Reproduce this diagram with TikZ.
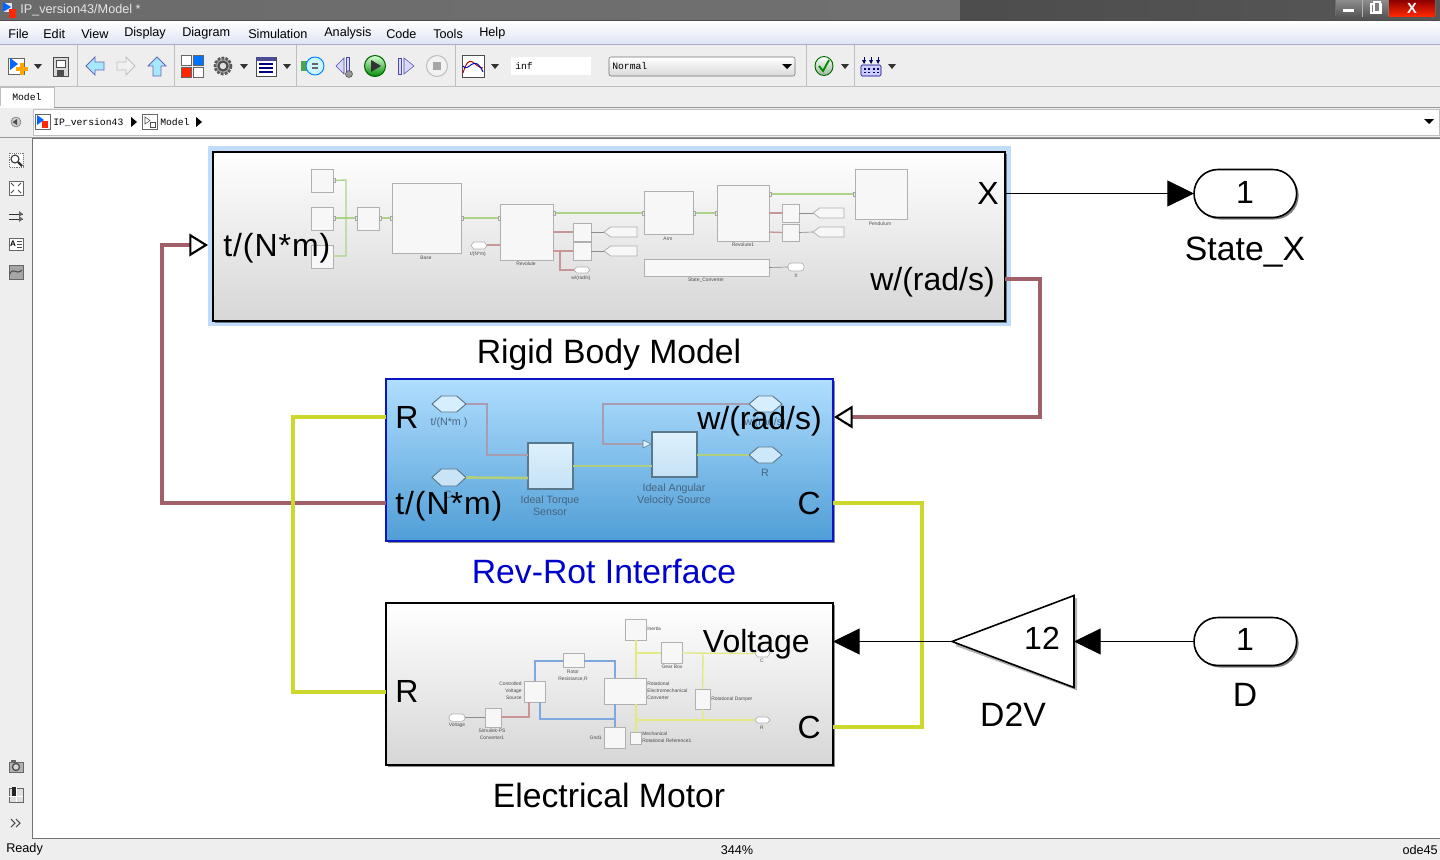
\documentclass[tikz,border=0pt]{standalone}
\usepackage{fontspec}
\setmainfont{Liberation Sans}
\setmonofont{Liberation Mono}
\usetikzlibrary{arrows.meta,shadows}

\definecolor{wirered}{RGB}{160,96,106}
\definecolor{wireyellow}{RGB}{204,216,44}
\definecolor{paneback}{RGB}{238,238,238}
\definecolor{panerule}{RGB}{190,190,190}
\definecolor{glowblue}{RGB}{192,220,250}
\definecolor{thumbgreen}{RGB}{172,212,136}
\definecolor{thumbred}{RGB}{200,150,150}
\definecolor{thumbyellow}{RGB}{226,232,130}
\definecolor{thumbblue}{RGB}{128,168,224}
\definecolor{thumbgrey}{RGB}{176,176,176}
\definecolor{revtext}{RGB}{70,100,125}

\tikzset{
  bigblock/.style={draw=black,line width=2pt,inner sep=0pt,outer sep=0pt,anchor=north west,
    top color=white,middle color=white!96!black,bottom color=white!84!black,
    drop shadow={shadow xshift=1.5pt,shadow yshift=-1.5pt,opacity=.45,fill=black}},
  revblock/.style={bigblock,draw={rgb,255:red,10;green,20;blue,200},
    top color={rgb,255:red,176;green,222;blue,255},middle color={rgb,255:red,146;green,204;blue,246},
    bottom color={rgb,255:red,80;green,158;blue,214}},
  box/.style={inner sep=0pt,outer sep=0pt,anchor=north west},
  portblock/.style={box,draw=black,line width=1.2pt,fill=white,rounded corners=18pt,minimum width=77pt,minimum height=36pt,
    drop shadow={shadow xshift=1.5pt,shadow yshift=-1.5pt,opacity=.5,fill=black}},
  thumb/.style={box,draw=thumbgrey,line width=0.6pt,fill=white!97!black},
  revthumb/.style={box,draw={rgb,255:red,90;green,120;blue,140},line width=0.8pt,
    top color={rgb,255:red,222;green,240;blue,252},bottom color={rgb,255:red,196;green,226;blue,246}},
  bigtext/.style={font=\fontsize{24}{26}\selectfont,inner sep=0pt},
  nametext/.style={font=\fontsize{25.3}{28}\selectfont,inner sep=0pt},
  revtext/.style={font=\fontsize{8}{9}\selectfont,text=revtext,inner sep=0pt,align=center},
  tinytext/.style={font=\fontsize{3.7}{5.2}\selectfont,text=black!70,inner sep=0pt},
  menutext/.style={font=\fontsize{9.5}{11}\selectfont,inner sep=0pt,anchor=west},
  monotext/.style={font=\ttfamily\fontsize{7.3}{8}\selectfont,inner sep=0pt,anchor=west},
  redwire/.style={draw=wirered,line width=2.3pt},
  yellowwire/.style={draw=wireyellow,line width=2.3pt},
  blackwire/.style={draw=black,line width=0.75pt},
  solidtip/.style={-{Triangle[length=20pt,width=19.5pt,fill=black,color=black]}},
  opentip/.style={-{Triangle[length=14pt,width=17pt,open,fill=white,color=black,line width=1.6pt]}},
  tgreen/.style={draw=thumbgreen,line width=1pt},
  tred/.style={draw=thumbred,line width=1pt},
  tyellow/.style={draw=thumbyellow,line width=1pt},
  tblue/.style={draw=thumbblue,line width=1pt},
  tgrey/.style={draw=black!45,line width=0.5pt},
  revmauve/.style={draw={rgb,255:red,168;green,156;blue,176},line width=2pt},
  revgreen/.style={draw={rgb,255:red,176;green,206;blue,128},line width=2pt},
  iconline/.style={draw=black!60,line width=0.6pt},
}

% block from its two corners: name, style, x1, y1, x2, y2
\newcommand{\blk}[6]{\node (#1) [#2,minimum width={(#5-#3)*0.75pt},minimum height={(#6-#4)*0.75pt}] at (#3,#4) {};}
% empty holder for hand drawn outlines
\newcommand{\holder}[5]{\node (#1) [box,minimum width={(#4-#2)*0.75pt},minimum height={(#5-#3)*0.75pt}] at (#2,#3) {};}
\newcommand{\hexblk}[7]{\holder{#1}{#3}{#4}{#5}{#6}
  \draw [#2] (#1.west) -- ([xshift=#7]#1.north west) -- ([xshift=-#7]#1.north east) -- (#1.east) -- ([xshift=-#7]#1.south east) -- ([xshift=#7]#1.south west) -- cycle;}
\newcommand{\gotoblk}[5]{\holder{#1}{#2}{#3}{#4}{#5}
  \draw [draw=thumbgrey,line width=0.6pt,fill=white!97!black] (#1.west) -- ([xshift=5pt]#1.north west) -- (#1.north east) -- (#1.south east) -- ([xshift=5pt]#1.south west) -- cycle;}
\newcommand{\droparrow}[2]{\fill [black!80] (#1-4,#2-2) -- (#1+4,#2-2) -- (#1,#2+3) -- cycle;}
\newcommand{\torquelabel}{\addfontfeature{LetterSpace=3}t/(N*m)}

\begin{document}
\begin{tikzpicture}[x=0.75pt,y=0.75pt,yscale=-1,xscale=1]
\useasboundingbox (0,0) rectangle (1440,860);
% window
\fill [paneback] (0,0) rectangle (1440,860);
\fill [left color=black!58,right color=black!56] (0,0) rectangle (960,20);
\fill [left color=black!70,right color=black!66] (960,0) rectangle (1440,20);
\node (titletext) [menutext,text=white!90!black] at (20,10) {IP\_version43/Model *};
\fill [white!90!black] (3,3) rectangle (12,12);
\fill [blue!60!cyan] (3,2) -- (11,7) -- (3,12) -- cycle;
\fill [red!70!orange] (9,9) rectangle (16,18);
% window buttons
\draw [black!70,fill=black!50,rounded corners=1.5pt] (1335,-3) rectangle (1436,17);
\fill [top color=black!45,bottom color=black!65] (1336,0) rectangle (1388,16);
\fill [top color=red!55!black,bottom color=red!70!orange] (1389,0) rectangle (1435,16);
\draw [white!70!black] (1362,0) -- (1362,17);
\fill [white] (1343,9) rectangle (1354,12);
\draw [white,line width=1pt,fill=black!50] (1371,4) rectangle (1381,13);
\draw [white,line width=1pt,fill=black!50] (1374,2) rectangle (1380,12);
\node (closetext) [inner sep=0pt,font=\bfseries\fontsize{11}{12}\selectfont,text=white] at (1412,8) {X};
% menu bar
\fill [top color=white,bottom color={rgb,255:red,222;green,228;blue,244}] (0,21) rectangle (1440,44);
\draw [black!70] (0,20.5) -- (1440,20.5);
\draw [panerule!90!blue] (0,44.5) -- (1440,44.5);
\foreach \mx/\mname in {8/File,43/Edit,81/View,124/Display,182/Diagram,248/Simulation,324/Analysis,386/Code,433/Tools,479/Help}
  \node (menu\mname) [menutext] at (\mx,33.5) {\mname};
% toolbar
\draw [panerule] (0,86.5) -- (1440,86.5);
\foreach \sx in {77,174.5,296,455,806,854}
  \draw [panerule] (\sx,45) -- (\sx,86);
\draw [iconline,fill=white] (8,58) rectangle (24,74);
\fill [blue!60!cyan] (10,58) -- (18,64) -- (10,70) -- cycle;
\fill [orange!70!yellow] (20,63) rectangle (24,75);
\fill [orange!70!yellow] (16,67) rectangle (28,71);
\droparrow{38}{66}
\draw [black!70,fill=black!15] (53,57) rectangle (68,76);
\draw [black!70,fill=white] (56,60) rectangle (65,67);
\fill [black!70] (57,70) rectangle (64,76);
% nav arrows
\draw [black!45!blue!60,fill=blue!25!cyan!35,line width=0.7pt] (86,66) -- (95,57) -- (95,62) -- (104,62) -- (104,70) -- (95,70) -- (95,75) -- cycle;
\draw [black!25,fill=black!6,line width=0.7pt] (135,66) -- (126,57) -- (126,62) -- (117,62) -- (117,70) -- (126,70) -- (126,75) -- cycle;
\draw [black!45!blue!60,fill=blue!25!cyan!35,line width=0.7pt] (157,57) -- (166,66) -- (161,66) -- (161,76) -- (153,76) -- (153,66) -- (148,66) -- cycle;
% library
\draw [iconline,fill=white] (181,55) rectangle (191,65);
\draw [iconline,fill=blue!55!cyan] (193,55) rectangle (203,65);
\draw [iconline,fill=red!70!orange] (181,67) rectangle (191,77);
\draw [iconline,fill=white] (193,67) rectangle (203,77);
% gear
\draw [black!65,fill=black!35,line width=2pt,dash pattern=on 2pt off 1pt] (223,66) circle (8);
\draw [black!70,fill=black!12,line width=1.5pt] (223,66) circle (4.5);
\droparrow{244}{66}
% table
\draw [black!70,fill=white] (256,57) rectangle (276,76);
\fill [blue!40!black!70] (256,57) rectangle (276,61);
\foreach \ty in {64,68,72}
  \draw [blue!50!black,line width=1pt] (259,\ty) -- (273,\ty);
\droparrow{287}{66}
% update
\fill [green!50!black!70] (301,61) rectangle (309,71);
\draw [blue!50!cyan,fill=blue!20!cyan!20,line width=0.7pt] (315,66) circle (9);
\draw [black!60,line width=1pt] (312,64) -- (318,64) (312,68) -- (318,68);
% step back
\draw [blue!50!black!70,fill=blue!15] (336,66) -- (344,58) -- (344,74) -- cycle;
\draw [blue!50!black!70,fill=blue!15] (346,57) rectangle (349,72);
\draw [black!70,fill=black!40] (349,74) circle (3.5);
% play
\draw [green!40!black,top color=green!15,bottom color=green!55!black,line width=0.8pt] (375,66) circle (10.5);
\fill [black!80] (371,60) -- (381,66) -- (371,72) -- cycle;
% step forward
\draw [blue!50!black!70,fill=blue!15] (398,58) rectangle (401,74);
\draw [blue!50!black!70,fill=blue!15] (404,58) -- (414,66) -- (404,74) -- cycle;
% stop
\draw [black!25,fill=black!5,line width=0.8pt] (437,66) circle (10.5);
\fill [black!35] (433,62) rectangle (441,70);
% scope
\draw [black!70,fill=white] (462,55) rectangle (484,77);
\draw [red!70!black,line width=0.7pt] (463,73) .. controls (470,50) and (474,68) .. (483,68);
\draw [blue!70!black,line width=0.7pt] (463,66) .. controls (468,74) and (474,52) .. (483,72);
\droparrow{495}{66}
% fields
\node (inffield) [box,fill=white,minimum width=60pt,minimum height=13.5pt] at (511,57) {};
\node (inftext) [monotext] at (515,66) {inf};
\node (modefield) [box,draw=black!55,rounded corners=1.5pt,top color=white,bottom color=black!15,minimum width=139.5pt,minimum height=14.25pt] at (609,57) {};
\node (modetext) [monotext] at (612,66) {Normal};
\fill [black] (782,64) -- (792,64) -- (787,69) -- cycle;
% check
\draw [green!40!black,top color=white,bottom color=green!30!black!40,line width=0.7pt] (824,66) ellipse (9 and 9.5);
\draw [green!55!black,line width=1.4pt] (819,66) -- (823,71) -- (829,60);
\droparrow{845}{66}
% variant icon
\draw [blue!50!black,fill=blue!20,rounded corners=1pt] (861,65) rectangle (881,76);
\foreach \gx in {864.5,869,873.5,878}{
  \fill [blue!40!black] (\gx-1,68) rectangle (\gx+1,69.5);
  \fill [blue!40!black] (\gx-1,71.5) rectangle (\gx+1,73);
}
\foreach \gx in {864,871,878}{
  \draw [blue!40!black,line width=0.7pt] (\gx,57) -- (\gx,63);
  \fill [blue!40!black] (\gx-2,60) -- (\gx+2,60) -- (\gx,64) -- cycle;
}
\droparrow{892}{66}
% tab strip
\node (modeltab) [box,draw=panerule,fill=white,minimum width=40.5pt,minimum height=15pt] at (0,87) {};
\node (modeltabtext) [monotext] at (12,97.5) {Model};
\fill [black!40] (0,106.5) rectangle (1440,107.5);
\fill [white] (0,106) rectangle (53.5,107.5);
% address bar
\node (addressfield) [box,draw=black!25,fill=white,minimum width=1055pt,minimum height=19.5pt] at (33,109) {};
\draw [black!55,fill=black!20] (16,122) circle (5);
\fill [black!70] (12.5,122) -- (17,119) -- (17,125) -- cycle;
\draw [iconline,fill=white] (35,114) rectangle (50,129);
\fill [blue!60!cyan] (37,115) -- (44,120) -- (37,125) -- cycle;
\fill [red!70!orange] (42,121) rectangle (48,128);
\node (addressroot) [monotext] at (53,122) {IP\_version43};
\fill [black] (131,117) -- (137,122) -- (131,127) -- cycle;
\draw [iconline,fill=white] (142,114) rectangle (157,129);
\draw [black!70,fill=white] (145,117) -- (150,120.5) -- (145,124) -- cycle;
\draw [black!70,fill=white] (150,122) rectangle (155,127);
\node (addressmodel) [monotext] at (160,122) {Model};
\fill [black] (196,117) -- (202,122) -- (196,127) -- cycle;
\fill [black] (1424,119) -- (1434,119) -- (1429,124) -- cycle;
% canvas
\fill [black!40] (0,136.5) rectangle (1440,137.5);
\node (canvas) [box,draw=black!55,fill=white,minimum width=1056pt,minimum height=525pt] at (32.5,138) {};
% side tools
\draw [black!55,densely dotted,fill=white] (9,153) rectangle (23,167);
\draw [black!80,fill=white,line width=0.8pt] (15,159) circle (4);
\draw [black!80,line width=1.6pt] (18,162) -- (22,166);
\draw [black!60,fill=white] (9,181) rectangle (23,195);
\draw [black!70,line width=0.7pt] (11,183) -- (14,186) (21,183) -- (18,186) (11,193) -- (14,190) (21,193) -- (18,190);
\draw [black!80] (9,214) -- (23,214) (9,219) -- (23,219);
\fill [black!60] (19,211) -- (23,214) -- (19,217) -- cycle;
\fill [black!60] (19,216) -- (23,219) -- (19,222) -- cycle;
\draw [black!60,fill=white] (9,238) rectangle (23,250);
\node (sidea) [inner sep=0pt,font=\bfseries\fontsize{6}{7}\selectfont] at (13,244) {A};
\draw [black!70] (17,241) -- (22,241) (17,244) -- (22,244) (17,247) -- (22,247);
\draw [black!60,fill=black!35] (9,265) rectangle (23,279);
\draw [black!70,line width=0.8pt] (10,274) .. controls (13,266) and (16,276) .. (22,270);
\draw [black!60,fill=black!30] (9,762) rectangle (23,772);
\draw [black!70,fill=black!15,line width=1pt] (16,767) circle (3.5);
\fill [black!60] (11,760) rectangle (16,762);
\draw [black!60,fill=black!12] (9,788) rectangle (23,802);
\fill [black!85] (12,787) rectangle (16,796);
\draw [white] (16.5,788) -- (16.5,802) (9,796) -- (23,796);
\draw [black!70,line width=0.8pt] (11,819) -- (15,823) -- (11,827) (16,819) -- (20,823) -- (16,827);
% status bar
\node (readytext) [menutext] at (6,849) {Ready};
\node (zoomtext) [menutext,anchor=center] at (737,850) {344\%};
\node (solvertext) [menutext,anchor=east] at (1438,850) {ode45};

% highlight and big blocks
\fill [glowblue] (208,146) rectangle (1011,326);
\blk{rigid}{bigblock}{213}{152}{1005}{321}
\blk{revrot}{revblock}{386}{379}{833}{541}
\blk{motor}{bigblock}{386}{603}{833}{765}

% rigid body contents
\blk{rworld}{thumb}{311}{169}{333}{192}
\blk{rconf}{thumb}{311}{207}{333}{230}
\blk{rsolver}{thumb}{311}{245}{333}{268}
\blk{rweld}{thumb}{357}{207}{379}{230}
\blk{rbase}{thumb}{392}{183}{461}{253}
\blk{rrev}{thumb}{500}{204}{553}{260}
\blk{rarm}{thumb}{644}{191}{693}{234}
\blk{rrevb}{thumb}{717}{185}{769}{241}
\blk{rpend}{thumb}{855}{169}{907}{219}
\blk{rstate}{thumb}{644}{259}{769}{276}
\blk{rsa}{thumb}{573}{223}{591}{241}
\blk{rsb}{thumb}{573}{242}{591}{260}
\blk{rsc}{thumb}{782}{204}{799}{222}
\blk{rsd}{thumb}{782}{224}{799}{241}
\gotoblk{rga}{604}{227}{637}{237}
\gotoblk{rgb}{604}{246}{637}{256}
\gotoblk{rgc}{813}{208}{844}{218}
\gotoblk{rgd}{813}{227}{844}{237}
\hexblk{rht}{draw=thumbgrey,line width=0.5pt,fill=white}{471}{242}{487}{249}{2pt}
\hexblk{rhw}{draw=thumbgrey,line width=0.5pt,fill=white}{574}{267}{590}{273}{2pt}
\node (rterm) [box,draw=thumbgrey,line width=0.5pt,fill=white,rounded corners=2.5pt,minimum width=12pt,minimum height=6pt] at (788,263) {};
\draw [tgreen] (rworld.east) -- (346,180) -- (346,256) -- (rsolver.east |- 0,256);
\draw [tgreen] (rconf.east |- 0,218) -- (rweld.west |- 0,218);
\draw [tgreen] (rweld.east |- 0,218) -- (rbase.west |- 0,218);
\draw [tgreen] (rbase.east |- 0,218) -- (rrev.west |- 0,218);
\draw [tgreen] (rrev.east |- 0,213) -- (rarm.west |- 0,213);
\draw [tgreen] (rarm.east |- 0,213) -- (rrevb.west |- 0,213);
\draw [tgreen] (rrevb.east |- 0,194) -- (rpend.west |- 0,194);
\draw [tred] (rht.east |- 0,245) -- (rrev.west |- 0,245);
\draw [tred] (rrev.east |- 0,232) -- (rsa.west);
\draw [tred] (rrev.east |- 0,251) -- (rsb.west);
\draw [tred] (560,251) -- (560,270) -- (rhw.west);
\draw [tred] (rrevb.east |- 0,213) -- (rsc.west);
\draw [tred] (rrevb.east |- 0,232) -- (rsd.west);
\draw [tgrey] (rsa.east) -- (rga.west);
\draw [tgrey] (rsb.east) -- (rgb.west);
\draw [tgrey] (rsc.east) -- (rgc.west);
\draw [tgrey] (rsd.east) -- (rgd.west);
\draw [tgrey] (rstate.east) -- (rterm.west);
\foreach \px/\py in {333/180,333/218,355/218,379/218,390/218,461/218,498/218,553/213,642/213,693/213,715/213,769/194,853/194}
  \draw [black!35,fill=black!8,line width=0.3pt] (\px,\py-2) rectangle (\px+2.5,\py+2);
\node (lbase) [tinytext] at (426,258) {Base};
\node (lrev) [tinytext] at (526,264) {Revolute};
\node (larm) [tinytext] at (668,239) {Arm};
\node (lrevb) [tinytext] at (743,245) {Revolute1};
\node (lpend) [tinytext] at (880,224) {Pendulum};
\node (lstate) [tinytext] at (706,280) {State\_Converter};
\node (lx) [tinytext] at (796,276) {X};
\node (lt) [tinytext] at (478,254) {t/(N*m)};
\node (lw) [tinytext] at (581,278) {w/(rad/s)};

% rev-rot contents
\blk{torque}{revthumb}{528}{443}{573}{489}
\blk{velsrc}{revthumb}{652}{432}{697}{477}
\hexblk{hta}{draw={rgb,255:red,90;green,120;blue,140},line width=0.7pt,fill={rgb,255:red,214;green,238;blue,254}}{432}{396}{466}{412}{7pt}
\hexblk{htb}{draw={rgb,255:red,90;green,120;blue,140},line width=0.7pt,fill={rgb,255:red,200;green,228;blue,246}}{432}{469}{466}{486}{7pt}
\hexblk{hwa}{draw={rgb,255:red,90;green,120;blue,140},line width=0.7pt,fill={rgb,255:red,214;green,238;blue,254}}{749}{396}{782}{412}{7pt}
\hexblk{hwb}{draw={rgb,255:red,90;green,120;blue,140},line width=0.7pt,fill={rgb,255:red,204;green,232;blue,250}}{749}{447}{782}{463}{7pt}
\draw [revmauve] (hta.east) -- (487,404) -- (487,455) -- (torque.west |- 0,455);
\draw [revgreen] (htb.east) -- (torque.west |- 0,478);
\draw [revgreen] (torque.east |- 0,466) -- (velsrc.west |- 0,466);
\draw [revgreen,line width=1.2pt] (velsrc.east |- 0,455) -- (hwb.west);
\draw [revmauve] (hwa.west) -- (603,404) -- (603,444) -- (643,444);
\draw [draw={rgb,255:red,90;green,120;blue,140},line width=0.4pt,fill=white!85!cyan] (643,440) -- (651,444) -- (643,448) -- cycle;
\node (lta) [revtext] at (449,423) {t/(N*m )};
\node (ltb) [revtext] at (448,495) {C};
\node (ltorque) [revtext] at (550,506) {Ideal Torque\\Sensor};
\node (lvel) [revtext] at (674,495) {Ideal Angular\\Velocity Source};
\node (lwa) [revtext] at (765,423) {w/(rad/s)};
\node (lwb) [revtext] at (765,473) {R};

% motor contents
\blk{mps}{thumb}{485}{708}{501}{727}
\blk{mctrl}{thumb}{524}{681}{545}{702}
\blk{mrotor}{thumb}{563}{653}{584}{667}
\blk{mconv}{thumb}{604}{678}{646}{704}
\blk{minert}{thumb}{625}{619}{646}{640}
\blk{mgear}{thumb}{661}{642}{682}{663}
\blk{mdamp}{thumb}{695}{689}{710}{709}
\blk{mgnd}{thumb}{604}{727}{625}{748}
\blk{mref}{thumb}{630}{732}{641}{744}
\node (mterm) [box,draw=thumbgrey,line width=0.5pt,fill=white,rounded corners=2.5pt,minimum width=12pt,minimum height=5.5pt] at (449,714) {};
\hexblk{mhc}{draw=thumbgrey,line width=0.5pt,fill=white}{755}{650}{770}{657}{2pt}
\hexblk{mhr}{draw=thumbgrey,line width=0.5pt,fill=white}{755}{717}{770}{723}{2pt}
\draw [tgrey] (mterm.east) -- (mps.west |- mterm.east);
\draw [tred] (mps.east |- 0,717) -- (529,717) -- (mctrl.south -| 529,0);
\draw [tblue] (mctrl.north -| 535,0) -- (535,661) -- (mrotor.west |- 0,661);
\draw [tblue] (mrotor.east |- 0,661) -- (615,661) -- (mconv.north -| 615,0);
\draw [tblue] (mctrl.south -| 540,0) -- (540,719) -- (615,719);
\draw [tblue] (mconv.south -| 615,0) -- (mgnd.north -| 615,0);
\draw [tyellow] (minert.south -| 636,0) -- (mconv.north -| 636,0);
\draw [tyellow] (636,653) -- (mgear.west |- 0,653);
\draw [tyellow] (mgear.east |- 0,653) -- (mhc.west);
\draw [tyellow] (703,653) -- (mdamp.north);
\draw [tyellow] (mdamp.south) -- (703,720);
\draw [tyellow] (mconv.south -| 636,0) -- (mref.north -| 636,0);
\draw [tyellow] (636,720) -- (mhr.west);
\node (mlterm) [tinytext] at (457,725) {Voltage};
\node (mlps) [tinytext,align=center] at (492,734.5) {Simulink-PS\\Converter1};
\node (mlctrl) [tinytext,align=right,anchor=east] at (522,691) {Controlled\\Voltage\\Source};
\node (mlrotor) [tinytext,align=center] at (573,675.5) {Rotor\\Resistance,R};
\node (mlconv) [tinytext,align=left,anchor=west] at (647,691) {Rotational\\Electromechanical\\Converter};
\node (mlinert) [tinytext,anchor=west] at (647,629) {Inertia};
\node (mlgear) [tinytext] at (672,667) {Gear Box};
\node (mldamp) [tinytext,anchor=west] at (711,699) {Rotational Damper};
\node (mlgnd) [tinytext,anchor=east] at (602,738) {Gnd1};
\node (mlref) [tinytext,align=left,anchor=west] at (642,737.5) {Mechanical\\Rotational Reference1};
\node (mlc) [tinytext] at (762,661) {C};
\node (mlr) [tinytext] at (762,728) {R};

% port labels
\node (rigidt) [bigtext,anchor=west] at (223,248) {\torquelabel};
\node (rigidx) [bigtext,anchor=east] at (999,193) {X};
\node (rigidw) [bigtext,anchor=east] at (995,282) {w/(rad/s)};
\node (revr) [bigtext,anchor=west] at (395,417) {R};
\node (revt) [bigtext,anchor=west] at (395,506) {\torquelabel};
\node (revw) [bigtext,anchor=east] at (822,421) {w/(rad/s)};
\node (revc) [bigtext,anchor=east] at (821,503) {C};
\node (motorv) [bigtext,anchor=east] at (810,644) {Voltage};
\node (motorr) [bigtext,anchor=west] at (395,691) {R};
\node (motorc) [bigtext,anchor=east] at (821,727) {C};

% block names
\node (rigidname) [nametext] at (609,355) {Rigid Body Model};
\node (revname) [nametext,text={rgb,255:red,0;green,0;blue,204}] at (604,571) {Rev-Rot Interface};
\node (motorname) [nametext] at (609,795) {Electrical Motor};

% inports, outports, gain
\node (outx) [portblock] at (1194,169.5) {};
\node (outxnum) [bigtext] at (1245,192) {1};
\node (outxname) [nametext] at (1245,252) {State\_X};
\node (ind) [portblock] at (1194,617.5) {};
\node (indnum) [bigtext] at (1245,639) {1};
\node (indname) [nametext] at (1245,695) {D};
\holder{gain}{952}{595.5}{1074}{687.5}
\draw [black!30,line width=1.5pt] (1076,598) -- (1076,689) -- (956,645);
\draw [black,line width=1.2pt,fill=white] (gain.north east) -- (gain.south east) -- (gain.west) -- cycle;
\node (gainnum) [bigtext] at (1042,638) {12};
\node (gainname) [nametext] at (1013,715) {D2V};

% connectors
\coordinate (rigidxport) at (rigid.east |- outx.west);
\coordinate (rigidwport) at (rigid.east |- 0,279);
\coordinate (rigidtport) at (208,245);
\coordinate (revrport) at (revrot.west |- 0,417);
\coordinate (revtport) at (revrot.west |- 0,503);
\coordinate (revwport) at (834,417);
\coordinate (revcport) at (revrot.east |- 0,503);
\coordinate (motorvport) at (motor.east |- gain.west);
\coordinate (motorrport) at (motor.west |- 0,692);
\coordinate (motorcport) at (motor.east |- 0,727);
\draw [redwire,opentip] (revtport) -- (162,503) -- (162,245) -- (rigidtport);
\draw [redwire,opentip] (rigidwport) -- (1040,279) -- (1040,417) -- (revwport);
\draw [yellowwire] (revrport) -- (293,417) -- (293,692) -- (motorrport);
\draw [yellowwire] (revcport) -- (922,503) -- (922,727) -- (motorcport);
\draw [blackwire,solidtip] (rigidxport) -- (outx.west);
\draw [blackwire,solidtip] (ind.west) -- (gain.east);
\draw [blackwire,solidtip] (gain.west) -- (motorvport);
\end{tikzpicture}
\end{document}
